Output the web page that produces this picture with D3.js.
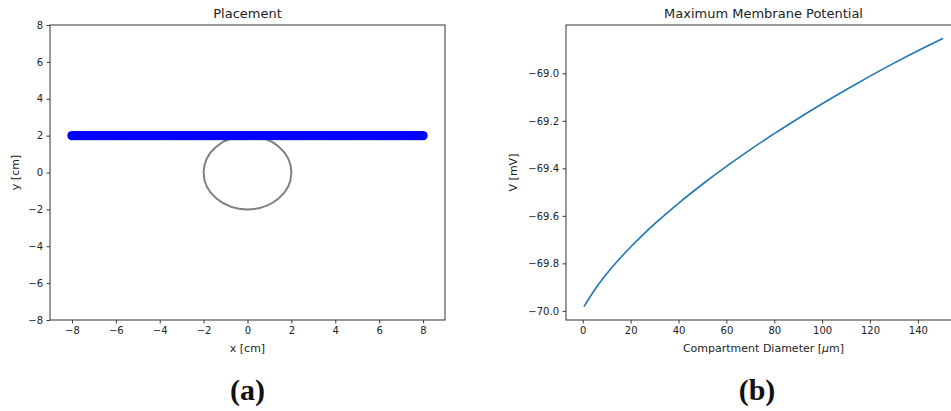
<!DOCTYPE html>
<html>
<head>
<meta charset="utf-8">
<script src="https://cdn.jsdelivr.net/npm/d3@7"></script>
<style>
  html, body { margin: 0; padding: 0; background: #fff; }
  svg { display: block; }
</style>
</head>
<body>
<svg id="fig" width="951" height="411"></svg>
<script>
// ---- Panel (a): electrode placement ----
const electrodeX = [
  -8, -7.875, -7.75, -7.625, -7.5, -7.375, -7.25, -7.125,
  -7, -6.875, -6.75, -6.625, -6.5, -6.375, -6.25, -6.125,
  -6, -5.875, -5.75, -5.625, -5.5, -5.375, -5.25, -5.125,
  -5, -4.875, -4.75, -4.625, -4.5, -4.375, -4.25, -4.125,
  -4, -3.875, -3.75, -3.625, -3.5, -3.375, -3.25, -3.125,
  -3, -2.875, -2.75, -2.625, -2.5, -2.375, -2.25, -2.125,
  -2, -1.875, -1.75, -1.625, -1.5, -1.375, -1.25, -1.125,
  -1, -0.875, -0.75, -0.625, -0.5, -0.375, -0.25, -0.125,
  0, 0.125, 0.25, 0.375, 0.5, 0.625, 0.75, 0.875,
  1, 1.125, 1.25, 1.375, 1.5, 1.625, 1.75, 1.875,
  2, 2.125, 2.25, 2.375, 2.5, 2.625, 2.75, 2.875,
  3, 3.125, 3.25, 3.375, 3.5, 3.625, 3.75, 3.875,
  4, 4.125, 4.25, 4.375, 4.5, 4.625, 4.75, 4.875,
  5, 5.125, 5.25, 5.375, 5.5, 5.625, 5.75, 5.875,
  6, 6.125, 6.25, 6.375, 6.5, 6.625, 6.75, 6.875,
  7, 7.125, 7.25, 7.375, 7.5, 7.625, 7.75, 7.875, 8
];
const electrodeY = 2;            // electrode row height [cm]
const cellCenter = [0, 0];       // compartment centre [cm]
const cellRadius = 2;            // compartment radius [cm]
const placementXTicks = [-8, -6, -4, -2, 0, 2, 4, 6, 8];
const placementYTicks = [-8, -6, -4, -2, 0, 2, 4, 6, 8];

// ---- Panel (b): maximum membrane potential vs diameter ----
const diameters = [0.5, 5, 10, 15, 20, 25, 30, 40, 50, 60, 70, 80, 90, 100,
                   110, 120, 130, 140, 150.5];
const maxV = [-69.982, -69.911, -69.844, -69.785, -69.731, -69.681, -69.634,
              -69.547, -69.467, -69.392, -69.321, -69.254, -69.190, -69.128,
              -69.069, -69.012, -68.957, -68.905, -68.853];
const diamTicks = [0, 20, 40, 60, 80, 100, 120, 140];
const vTicks = [-70.0, -69.8, -69.6, -69.4, -69.2, -69.0];

const svg = d3.select("#fig");
const minus = s => s.replace(/-/g, "\u2212");
const SANS = "'DejaVu Sans', sans-serif";
const SERIF = "'Liberation Serif', 'DejaVu Serif', serif";

function styleAxis(g) {
  g.select(".domain").remove();
  g.selectAll(".tick line").attr("stroke", "#222").attr("stroke-width", 0.9);
  g.selectAll(".tick text")
    .style("font-family", SANS)
    .attr("font-size", 10).attr("fill", "#222");
}

function frame(g, w, h) {
  g.append("rect").attr("x", 0).attr("y", 0).attr("width", w).attr("height", h)
    .attr("fill", "none").attr("stroke", "#333").attr("stroke-width", 1);
}

// padded extent with a 5% margin on each side
function padded(vals) {
  const [lo, hi] = d3.extent(vals);
  const m = (hi - lo) * 0.05;
  return [lo - m, hi + m];
}

function label(g, x, y, size, txt) {
  return g.append("text").attr("x", x).attr("y", y).attr("text-anchor", "middle")
    .style("font-family", SANS).attr("font-size", size).attr("fill", "#222").text(txt);
}

const H = 295, W = 395, TOP = 25;

// ===== Panel (a) =====
{
  const left = 50;
  const g = svg.append("g").attr("transform", `translate(${left},${TOP})`);
  const x = d3.scaleLinear().domain([-9, 9]).range([0, W]);
  const y = d3.scaleLinear().domain([-8, 8]).range([H, 0]);

  g.append("ellipse")
    .attr("cx", x(cellCenter[0])).attr("cy", y(cellCenter[1]))
    .attr("rx", x(cellRadius) - x(0)).attr("ry", y(0) - y(cellRadius))
    .attr("fill", "none").attr("stroke", "#808080").attr("stroke-width", 2);

  g.selectAll("circle.el").data(electrodeX).join("circle")
    .attr("class", "el")
    .attr("cx", d => x(d)).attr("cy", y(electrodeY)).attr("r", 4.6)
    .attr("fill", "#0000ff");

  g.append("g").attr("transform", `translate(0,${H})`)
    .call(d3.axisBottom(x).tickValues(placementXTicks).tickSize(3.5).tickPadding(3.5)
      .tickFormat(d => minus(String(d))))
    .call(styleAxis);
  g.append("g")
    .call(d3.axisLeft(y).tickValues(placementYTicks).tickSize(3.5).tickPadding(3.5)
      .tickFormat(d => minus(String(d))))
    .call(styleAxis);
  frame(g, W, H);

  label(g, W / 2, -7, 13, "Placement");
  label(g, W / 2, H + 32, 11, "x [cm]");
  label(g, 0, 0, 11, "y [cm]").attr("transform", `translate(-31,${H / 2}) rotate(-90)`);

  svg.append("text").attr("x", left + W / 2).attr("y", 400).attr("text-anchor", "middle")
    .style("font-family", SERIF).style("font-weight", "bold")
    .attr("font-size", 30).attr("fill", "#111").text("(a)");
}

// ===== Panel (b) =====
{
  const left = 566;
  const g = svg.append("g").attr("transform", `translate(${left},${TOP})`);
  const x = d3.scaleLinear().domain(padded(diameters)).range([0, W]);
  const y = d3.scaleLinear().domain(padded(maxV)).range([H, 0]);

  const pts = diameters.map((d, i) => [d, maxV[i]]);
  g.append("path").datum(pts)
    .attr("d", d3.line().x(p => x(p[0])).y(p => y(p[1])).curve(d3.curveMonotoneX))
    .attr("fill", "none").attr("stroke", "#1f77b4").attr("stroke-width", 1.6);

  g.append("g").attr("transform", `translate(0,${H})`)
    .call(d3.axisBottom(x).tickValues(diamTicks).tickSize(3.5).tickPadding(3.5)
      .tickFormat(d3.format("d")))
    .call(styleAxis);
  g.append("g")
    .call(d3.axisLeft(y).tickValues(vTicks).tickSize(3.5).tickPadding(3.5)
      .tickFormat(d => minus(d3.format(".1f")(d))))
    .call(styleAxis);
  frame(g, W, H);

  label(g, W / 2, -7, 13, "Maximum Membrane Potential");
  const xl = label(g, W / 2, H + 32, 11, "");
  xl.append("tspan").text("Compartment Diameter [");
  xl.append("tspan").style("font-style", "italic").text("\u03bc");
  xl.append("tspan").text("m]");
  label(g, 0, 0, 11, "V [mV]").attr("transform", `translate(-49,${H / 2}) rotate(-90)`);

  svg.append("text").attr("x", 757).attr("y", 400).attr("text-anchor", "middle")
    .style("font-family", SERIF).style("font-weight", "bold")
    .attr("font-size", 30).attr("fill", "#111").text("(b)");
}
</script>
</body>
</html>
